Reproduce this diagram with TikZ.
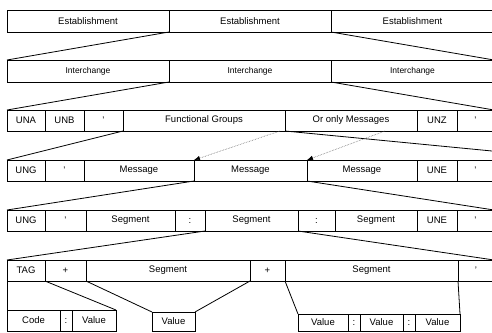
\documentclass[tikz,border=0pt]{standalone}
\usepackage{fontspec}
\setmainfont{Liberation Sans}
\usetikzlibrary{arrows.meta}
\tikzset{
  cell/.style={draw=black, line width=0.8pt, anchor=north west, inner sep=0pt, outer sep=0pt,
    font=\fontsize{9.5}{11}\selectfont},
  small/.style={font=\fontsize{8.5}{10}\selectfont},
  funnel/.style={draw=black, line width=0.8pt},
  dots/.style={draw=black!60, densely dotted, line width=0.6pt, -{Latex[length=6pt,width=4.5pt,black]}}
}
\newcommand\mkcell[7][]{\node[cell,#1,minimum width=#5pt,minimum height=#6pt] (#2) at (#3,#4) {#7};}
\begin{document}
\begin{tikzpicture}[x=1pt,y=-1pt]
\useasboundingbox (0,0) rectangle (492,332);
\clip (0,0) rectangle (492,332);
% Row 1
\mkcell{E1}{7}{10}{162}{22}{Establishment}
\mkcell{E2}{169}{10}{162}{22}{Establishment}
\mkcell{E3}{331}{10}{163}{22}{Establishment}
% Row 2
\mkcell[small]{I1}{7}{60}{162}{22}{Interchange}
\mkcell[small]{I2}{169}{60}{162}{22}{Interchange}
\mkcell[small]{I3}{331}{60}{163}{22}{Interchange}
% Row 3
\mkcell{UNA}{7}{110}{38}{21}{UNA}
\mkcell{UNB}{45}{110}{39}{21}{UNB}
\mkcell{qa}{84}{110}{39}{21}{'}
\mkcell{FG}{123}{110}{162}{21}{Functional Groups}
\mkcell{OM}{285}{110}{132}{21}{Or only Messages}
\mkcell{UNZ}{417}{110}{40}{21}{UNZ}
\mkcell{qb}{457}{110}{37}{21}{'}
% Row 4
\mkcell{UNGa}{7}{160}{38}{21}{UNG}
\mkcell{qc}{45}{160}{39}{21}{'}
\mkcell{Ma}{84}{160}{110}{21}{Message}
\mkcell{Mb}{194}{160}{113}{21}{Message}
\mkcell{Mc}{307}{160}{110}{21}{Message}
\mkcell{UNEa}{417}{160}{40}{21}{UNE}
\mkcell{qd}{457}{160}{37}{21}{'}
% Row 5
\mkcell{UNGb}{7}{210}{38}{21}{UNG}
\mkcell{qe}{45}{210}{41}{21}{'}
\mkcell{Sa}{86}{210}{89}{21}{Segment}
\mkcell{ca}{175}{210}{30}{21}{:}
\mkcell{Sb}{205}{210}{93}{21}{Segment}
\mkcell{cb}{298}{210}{37}{21}{:}
\mkcell{Sc}{335}{210}{82}{21}{Segment}
\mkcell{UNEb}{417}{210}{40}{21}{UNE}
\mkcell{qf}{457}{210}{37}{21}{'}
% Row 6
\mkcell{TAG}{7}{260}{38}{21}{TAG}
\mkcell{pa}{45}{260}{41}{21}{+}
\mkcell{Sd}{86}{260}{164}{21}{Segment}
\mkcell{pb}{250}{260}{35}{21}{+}
\mkcell{Se}{285}{260}{173}{21}{Segment}
\mkcell{qg}{458}{260}{36}{21}{'}
% Row 7
\mkcell{Code}{7}{310}{53}{21}{Code}
\mkcell{cc}{60}{310}{12}{21}{:}
\mkcell{Va}{72}{310}{44}{21}{Value}
\mkcell{Vb}{152}{312}{43}{19}{Value}
\mkcell{Vc}{298}{314}{50}{17}{Value}
\mkcell{cd}{348}{314}{12}{17}{:}
\mkcell{Vd}{360}{314}{43}{17}{Value}
\mkcell{ce}{403}{314}{12}{17}{:}
\mkcell{Ve}{415}{314}{45}{17}{Value}
% funnels
\coordinate (r34) at (492,151);
\draw[funnel] (E2.south west) -- (I1.north west);
\draw[funnel] (E2.south east) -- (I3.north east);
\draw[funnel] (I2.south west) -- (UNA.north west);
\draw[funnel] (I2.south east) -- (qb.north east);
\draw[funnel] (FG.south west) -- (UNGa.north west);
\draw[funnel] (FG.south east) -- (r34);
\draw[funnel] (Mb.south west) -- (UNGb.north west);
\draw[funnel] (Mb.south east) -- (qf.north east);
\draw[funnel] (Sb.south west) -- (TAG.north west);
\draw[funnel] (Sb.south east) -- (qg.north east);
\draw[funnel] (TAG.south west) -- (Code.north west);
\draw[funnel] (TAG.south east) -- (Va.north east);
\draw[funnel] (Sd.south west) -- (Vb.north west);
\draw[funnel] (Sd.south east) -- (Vb.north east);
\draw[funnel] (Se.south west) -- (Vc.north west);
\draw[funnel] (Se.south east) -- (Ve.north east);
% dotted arrows
\coordinate (d1) at (280,131);
\coordinate (d2) at (385,131);
\draw[dots] (d1) -- (Mb.north west);
\draw[dots] (d2) -- (Mc.north west);
\end{tikzpicture}
\end{document}
